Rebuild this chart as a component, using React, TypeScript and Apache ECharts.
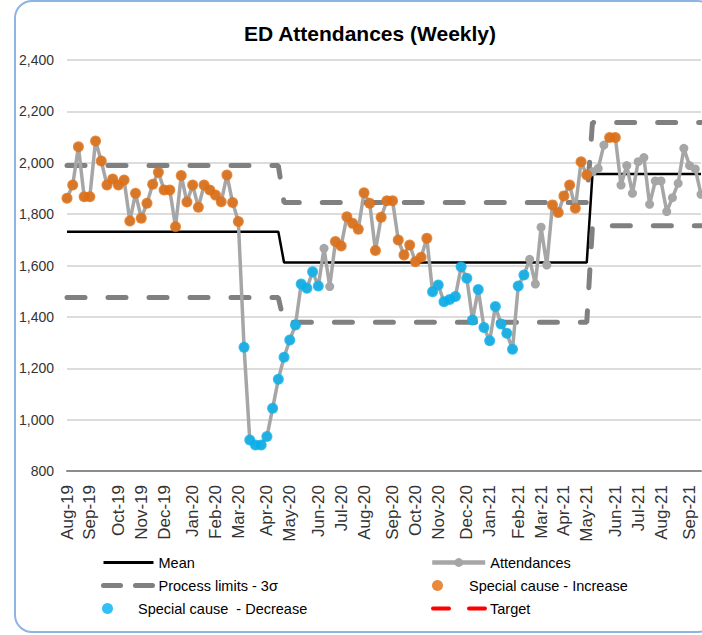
import React, { useEffect, useRef } from "react";
import * as echarts from "echarts";

// ---- data ----
const firstWeek = "2019-07-29";
const attendances = [
  1862, 1913, 2062, 1868, 1868, 2085, 2007, 1913, 1937, 1913,
  1933, 1773, 1881, 1784, 1842, 1916, 1963, 1894, 1894, 1751,
  1950, 1847, 1913, 1827, 1913, 1894, 1874, 1848, 1952, 1845,
  1771, 1282, 921, 901, 901, 934, 1044, 1157, 1243, 1310,
  1368, 1528, 1511, 1576, 1520, 1667, 1518, 1693, 1676, 1790,
  1764, 1741, 1883, 1842, 1658, 1788, 1852, 1852, 1699, 1641,
  1680, 1615, 1632, 1706, 1498, 1524, 1459, 1468, 1479, 1595,
  1550, 1388, 1507, 1359, 1307, 1440, 1372, 1336, 1274, 1520,
  1563, 1624, 1528, 1749, 1602, 1836, 1806, 1871, 1913, 1823,
  2004, 1952, 1965, 1978, 2069, 2098, 2098, 1913, 1989, 1881,
  2004, 2020, 1838, 1929, 1929, 1810, 1864, 1920, 2056, 1989,
  1976, 1877,
];
// week numbers (1-based, inclusive) flagged as special cause
const increaseRanges = [[1, 31], [48, 64], [86, 92], [96, 97]];
const decreaseRanges = [[32, 45], [65, 81]];
// control-limit periods (first week number of each period)
const periodStarts = [1, 39, 93];
const meanLevels = [1731, 1612, 1956];
const upperLimits = [1989, 1845, 2157];
const lowerLimits = [1475, 1379, 1755];
const monthNames = ["Jan", "Feb", "Mar", "Apr", "May", "Jun", "Jul", "Aug", "Sep", "Oct", "Nov", "Dec"];
const yMin = 800;
const yMax = 2400;
const yStep = 200;

const DAY = 86400000;
const weeks = attendances.map((_, i) => {
  const d = new Date(Date.parse(firstWeek + "T00:00:00Z") + i * 7 * DAY);
  return d.toISOString().slice(0, 10);
});

function weekEnd(v: string) {
  return new Date(Date.parse(v + "T00:00:00Z") + 6 * DAY);
}

function periodValue(levels: number[]) {
  return attendances.map((_, i) => {
    const wk = i + 1;
    let p = 0;
    for (let k = 0; k < periodStarts.length; k++) if (wk >= periodStarts[k]) p = k;
    return levels[p];
  });
}

function flagged(ranges: number[][]) {
  return attendances.map((v, i) => {
    const wk = i + 1;
    return ranges.some(([a, b]) => wk >= a && wk <= b) ? v : "-";
  });
}

const NARROW = "'Liberation Sans Narrow', 'Arial Narrow', 'Liberation Sans', Arial, sans-serif";
const SANS = "'Liberation Sans', Arial, sans-serif";

export default function App() {
  const ref = useRef<HTMLDivElement>(null);
  useEffect(() => {
    if (!ref.current) return;
    const chart = echarts.init(ref.current, null, { renderer: "svg" });
    const legendBase = {
      padding: 0,
      itemGap: 0,
      selectedMode: false,
      textStyle: { fontFamily: NARROW, fontSize: 14.5, color: "#000" },
    };
    const noSymbol = { itemStyle: { opacity: 0 } };
    chart.setOption({
      animation: false,
      backgroundColor: "#fff",
      grid: { left: 67, right: 1, top: 60, bottom: 164 },
      graphic: [
        {
          type: "rect",
          shape: { x: 15, y: 1, width: 700, height: 631, r: 17 },
          style: { fill: "none", stroke: "#8EB4E3", lineWidth: 2 },
          silent: true,
          z: 100,
        },
        {
          type: "text",
          x: 370,
          y: 33,
          style: {
            text: "ED Attendances (Weekly)",
            fontFamily: SANS,
            fontWeight: "bold",
            fontSize: 21,
            fill: "#000",
            textAlign: "center",
            textVerticalAlign: "middle",
          },
        },
      ],
      legend: [
        {
          ...legendBase, ...noSymbol, data: ["Mean"], left: 102, top: 555, itemWidth: 50, itemHeight: 14,
          lineStyle: { width: 3, color: "#000", type: "solid" },
        },
        {
          ...legendBase, data: ["Attendances"], left: 430, top: 555, itemWidth: 53, itemHeight: 11,
          lineStyle: { width: 4.5, color: "#A6A6A6", type: "solid" },
        },
        {
          ...legendBase, ...noSymbol, data: ["Process limits - 3σ"], left: 101, top: 578, itemWidth: 50, itemHeight: 14,
          lineStyle: { width: 5, color: "#808080", type: [17, 15], cap: "round" },
        },
        { ...legendBase, data: ["Special cause - Increase"], left: 432, top: 578, itemWidth: 53, itemHeight: 11 },
        { ...legendBase, data: ["Special cause  - Decrease"], left: 102, top: 601, itemWidth: 51, itemHeight: 11 },
        {
          ...legendBase, ...noSymbol, data: ["Target"], left: 431, top: 601, itemWidth: 52, itemHeight: 14,
          lineStyle: { width: 4, color: "#FF0000", type: [16, 20], cap: "round" },
        },
      ],
      xAxis: {
        type: "category",
        data: weeks,
        boundaryGap: false,
        axisLine: { onZero: false, lineStyle: { color: "#8C8C8C", width: 2 } },
        axisTick: { show: false },
        splitLine: { show: false },
        axisLabel: {
          rotate: 90,
          margin: 14,
          fontFamily: SANS,
          fontSize: 17,
          color: "#333",
          interval: (_i: number, v: string) => weekEnd(v).getUTCDate() <= 7,
          formatter: (v: string) => {
            const e = weekEnd(v);
            return monthNames[e.getUTCMonth()] + "-" + String(e.getUTCFullYear()).slice(2);
          },
        },
      },
      yAxis: {
        type: "value",
        min: yMin,
        max: yMax,
        interval: yStep,
        axisLine: { show: false },
        axisTick: { show: false },
        splitLine: { lineStyle: { color: "#D0D0D0", width: 1.5 } },
        axisLabel: {
          margin: 13,
          fontFamily: SANS,
          fontSize: 14,
          color: "#333",
          formatter: (v: number) => v.toLocaleString("en-US"),
        },
      },
      series: [
        {
          name: "Mean",
          type: "line",
          data: periodValue(meanLevels),
          symbol: "none",
          lineStyle: { color: "#000", width: 2.5 },
          itemStyle: { color: "#000" },
          z: 2,
        },
        {
          name: "Process limits - 3σ",
          type: "line",
          data: periodValue(upperLimits),
          symbol: "none",
          lineStyle: { color: "#808080", width: 5, type: [18, 23], cap: "round" },
          itemStyle: { color: "#808080" },
          z: 2,
        },
        {
          name: "Process limits - 3σ",
          type: "line",
          data: periodValue(lowerLimits),
          symbol: "none",
          lineStyle: { color: "#808080", width: 5, type: [18, 23], cap: "round" },
          itemStyle: { color: "#808080" },
          z: 2,
        },
        {
          name: "Attendances",
          type: "line",
          data: attendances,
          symbol: "circle",
          symbolSize: 9,
          showSymbol: true,
          showAllSymbol: true,
          lineStyle: { color: "#A6A6A6", width: 3.5 },
          itemStyle: { color: "#A6A6A6" },
          z: 3,
        },
        {
          name: "Special cause - Increase",
          type: "scatter",
          data: flagged(increaseRanges),
          symbol: "circle",
          symbolSize: 11,
          itemStyle: { color: "#E46C0A" },
          z: 4,
        },
        {
          name: "Special cause  - Decrease",
          type: "scatter",
          data: flagged(decreaseRanges),
          symbol: "circle",
          symbolSize: 11,
          itemStyle: { color: "#00B0F0" },
          z: 4,
        },
        {
          name: "Target",
          type: "line",
          data: [],
          symbol: "none",
          lineStyle: { color: "#FF0000", width: 4, type: [16, 20], cap: "round" },
          itemStyle: { color: "#FF0000" },
        },
      ],
    });
    return () => chart.dispose();
  }, []);
  return (
    <div
      ref={ref}
      style={{ position: "fixed", left: 0, top: 0, width: 702, height: 635, background: "#fff" }}
    />
  );
}
